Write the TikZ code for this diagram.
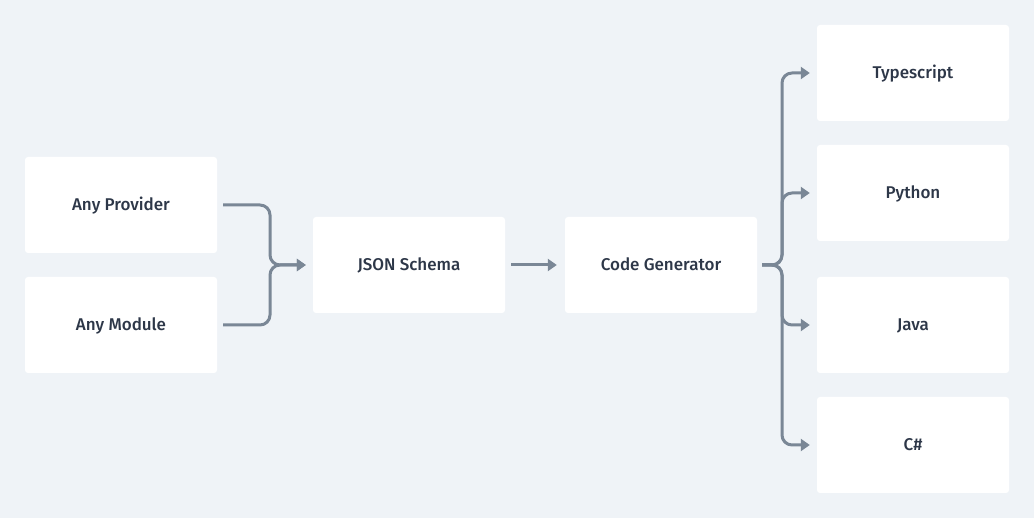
\documentclass[tikz,border=0pt]{standalone}
\usepackage{fontspec}
\setmainfont{Fira Sans}[UprightFont=* Medium]
\usetikzlibrary{arrows.meta}
\definecolor{bg}{RGB}{239,243,247}
\definecolor{txt}{RGB}{45,55,72}
\definecolor{ln}{RGB}{122,135,150}
\begin{document}
\begin{tikzpicture}[x=1pt,y=-1pt,
  box/.style={fill=white, rounded corners=3pt, minimum width=192pt, minimum height=96pt, inner sep=0pt, text=txt, font=\fontsize{17}{20}\selectfont, text height=12pt, text depth=0pt},
  conn/.style={draw=ln, line width=3pt, rounded corners=10pt, -{Triangle[length=9pt,width=12pt]}}]
\fill[bg] (0,0) rectangle (1034,518);
\useasboundingbox (0,0) rectangle (1034,518);
\node[box] (ap) at (121,205) {Any Provider};
\node[box] (am) at (121,325) {Any Module};
\node[box] (js) at (409,265) {JSON Schema};
\node[box] (cg) at (661,265) {Code Generator};
\node[box] (ts) at (913,73) {Typescript};
\node[box] (py) at (913,193) {Python};
\node[box] (ja) at (913,325) {Java};
\node[box] (cs) at (913,445) {C\#};
\coordinate (jm) at (270,265);
\coordinate (rb) at (782,265);
\draw[conn] ([xshift=6pt]ap.east) -| (jm) -- ([xshift=-7pt]js.west);
\draw[conn] ([xshift=6pt]am.east) -| (jm) -- ([xshift=-7pt]js.west);
\draw[conn] ([xshift=6pt]js.east) -- ([xshift=-8pt]cg.west);
\draw[conn] ([xshift=5pt]cg.east) -- (rb) |- ([xshift=-7pt]ts.west);
\draw[conn] ([xshift=5pt]cg.east) -- (rb) |- ([xshift=-7pt]py.west);
\draw[conn] ([xshift=5pt]cg.east) -- (rb) |- ([xshift=-7pt]ja.west);
\draw[conn] ([xshift=5pt]cg.east) -- (rb) |- ([xshift=-7pt]cs.west);
\end{tikzpicture}
\end{document}
